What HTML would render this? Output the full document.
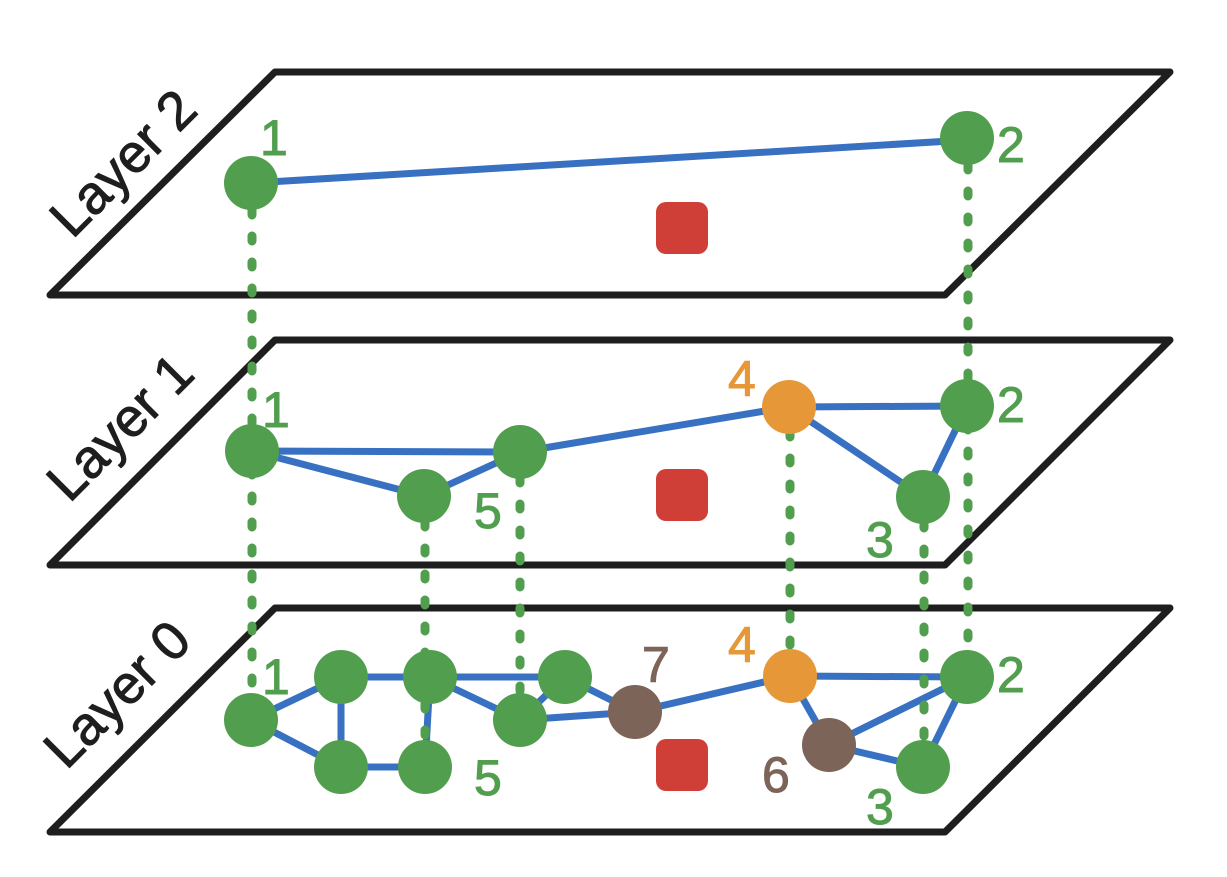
<!DOCTYPE html>
<html><head><meta charset="utf-8"><style>html,body{margin:0;padding:0;background:#fff}svg{display:block}</style></head>
<body>
<svg width="1227" height="877" viewBox="0 0 1227 877" xmlns="http://www.w3.org/2000/svg" font-family="'Comic Sans MS','Liberation Sans',sans-serif">
<g fill="none" stroke="#1e1e1e" stroke-width="7" stroke-linejoin="round">
<polygon points="275,72 1170,72 945,295 50,295"/>
<polygon points="275,340 1170,340 945,565 50,565"/>
<polygon points="275,608 1170,608 945,832 50,832"/>
</g>
<g fill="#1e1e1e" font-size="54" stroke="#1e1e1e" stroke-width="1">
<text transform="translate(126,166) rotate(-45)" text-anchor="middle" dominant-baseline="middle">Layer 2</text>
<text transform="translate(123,430) rotate(-45)" text-anchor="middle" dominant-baseline="middle">Layer 1</text>
<text transform="translate(120,697) rotate(-45)" text-anchor="middle" dominant-baseline="middle">Layer 0</text>
</g>
<g fill="#d03f37">
<rect x="656" y="202" width="52" height="52" rx="10"/>
<rect x="656" y="469" width="52" height="52" rx="10"/>
<rect x="656" y="739" width="52" height="52" rx="10"/>
</g>
<g stroke="#3871c1" stroke-width="7" stroke-linecap="round">
<line x1="252" y1="183" x2="967" y2="140"/>
<line x1="252" y1="451" x2="520" y2="452"/>
<line x1="252" y1="451" x2="424" y2="496"/>
<line x1="424" y1="496" x2="520" y2="452"/>
<line x1="520" y1="452" x2="789" y2="407"/>
<line x1="789" y1="407" x2="967" y2="406"/>
<line x1="789" y1="407" x2="923" y2="497"/>
<line x1="923" y1="497" x2="967" y2="406"/>
<line x1="251" y1="720" x2="341" y2="677"/>
<line x1="251" y1="720" x2="341" y2="767"/>
<line x1="341" y1="677" x2="430" y2="677"/>
<line x1="341" y1="677" x2="341" y2="767"/>
<line x1="341" y1="767" x2="425" y2="767"/>
<line x1="430" y1="677" x2="425" y2="767"/>
<line x1="430" y1="677" x2="565" y2="677"/>
<line x1="430" y1="677" x2="520" y2="720"/>
<line x1="520" y1="720" x2="565" y2="677"/>
<line x1="565" y1="677" x2="635" y2="712"/>
<line x1="520" y1="720" x2="635" y2="712"/>
<line x1="635" y1="712" x2="790" y2="676"/>
<line x1="790" y1="676" x2="967" y2="677"/>
<line x1="790" y1="676" x2="829" y2="745"/>
<line x1="829" y1="745" x2="967" y2="677"/>
<line x1="829" y1="745" x2="923" y2="767"/>
<line x1="923" y1="767" x2="967" y2="677"/>
</g>
<g stroke="#529e4f" stroke-width="9" stroke-linecap="round" stroke-dasharray="5 21">
<line x1="252" y1="210" x2="252" y2="700"/>
<line x1="968" y1="165" x2="968" y2="660"/>
<line x1="425" y1="522" x2="425" y2="750"/>
<line x1="520" y1="478" x2="520" y2="700"/>
<line x1="790" y1="432" x2="790" y2="655"/>
<line x1="924" y1="523" x2="924" y2="745"/>
</g>
<g fill="#529e4f">
<circle cx="251" cy="183" r="27"/><circle cx="967" cy="138" r="27"/>
<circle cx="252" cy="451" r="27"/><circle cx="424" cy="496" r="27"/><circle cx="520" cy="452" r="27"/>
<circle cx="967" cy="406" r="27"/><circle cx="923" cy="497" r="27"/>
<circle cx="251" cy="720" r="27"/><circle cx="341" cy="677" r="27"/><circle cx="430" cy="677" r="27"/>
<circle cx="565" cy="677" r="27"/><circle cx="341" cy="767" r="27"/><circle cx="425" cy="767" r="27"/>
<circle cx="520" cy="720" r="27"/><circle cx="967" cy="677" r="27"/><circle cx="923" cy="767" r="27"/>
</g>
<g fill="#e69738"><circle cx="789" cy="407" r="27"/><circle cx="790" cy="676" r="27"/></g>
<g fill="#7d6458"><circle cx="635" cy="712" r="27"/><circle cx="829" cy="745" r="27"/></g>
<g font-size="50" fill="#529e4f" stroke="#529e4f" stroke-width="1">
<text x="260" y="155">1</text><text x="997" y="162">2</text>
<text x="262" y="427">1</text><text x="474" y="528">5</text><text x="997" y="422">2</text><text x="866" y="557">3</text>
<text x="262" y="694">1</text><text x="474" y="795">5</text><text x="997" y="692">2</text><text x="866" y="824">3</text>
</g>
<g font-size="50" fill="#e69738" stroke="#e69738" stroke-width="1"><text x="728" y="396">4</text><text x="728" y="662">4</text></g>
<g font-size="50" fill="#7d6458" stroke="#7d6458" stroke-width="1"><text x="642" y="682">7</text><text x="762" y="792">6</text></g>
</svg>
</body></html>
